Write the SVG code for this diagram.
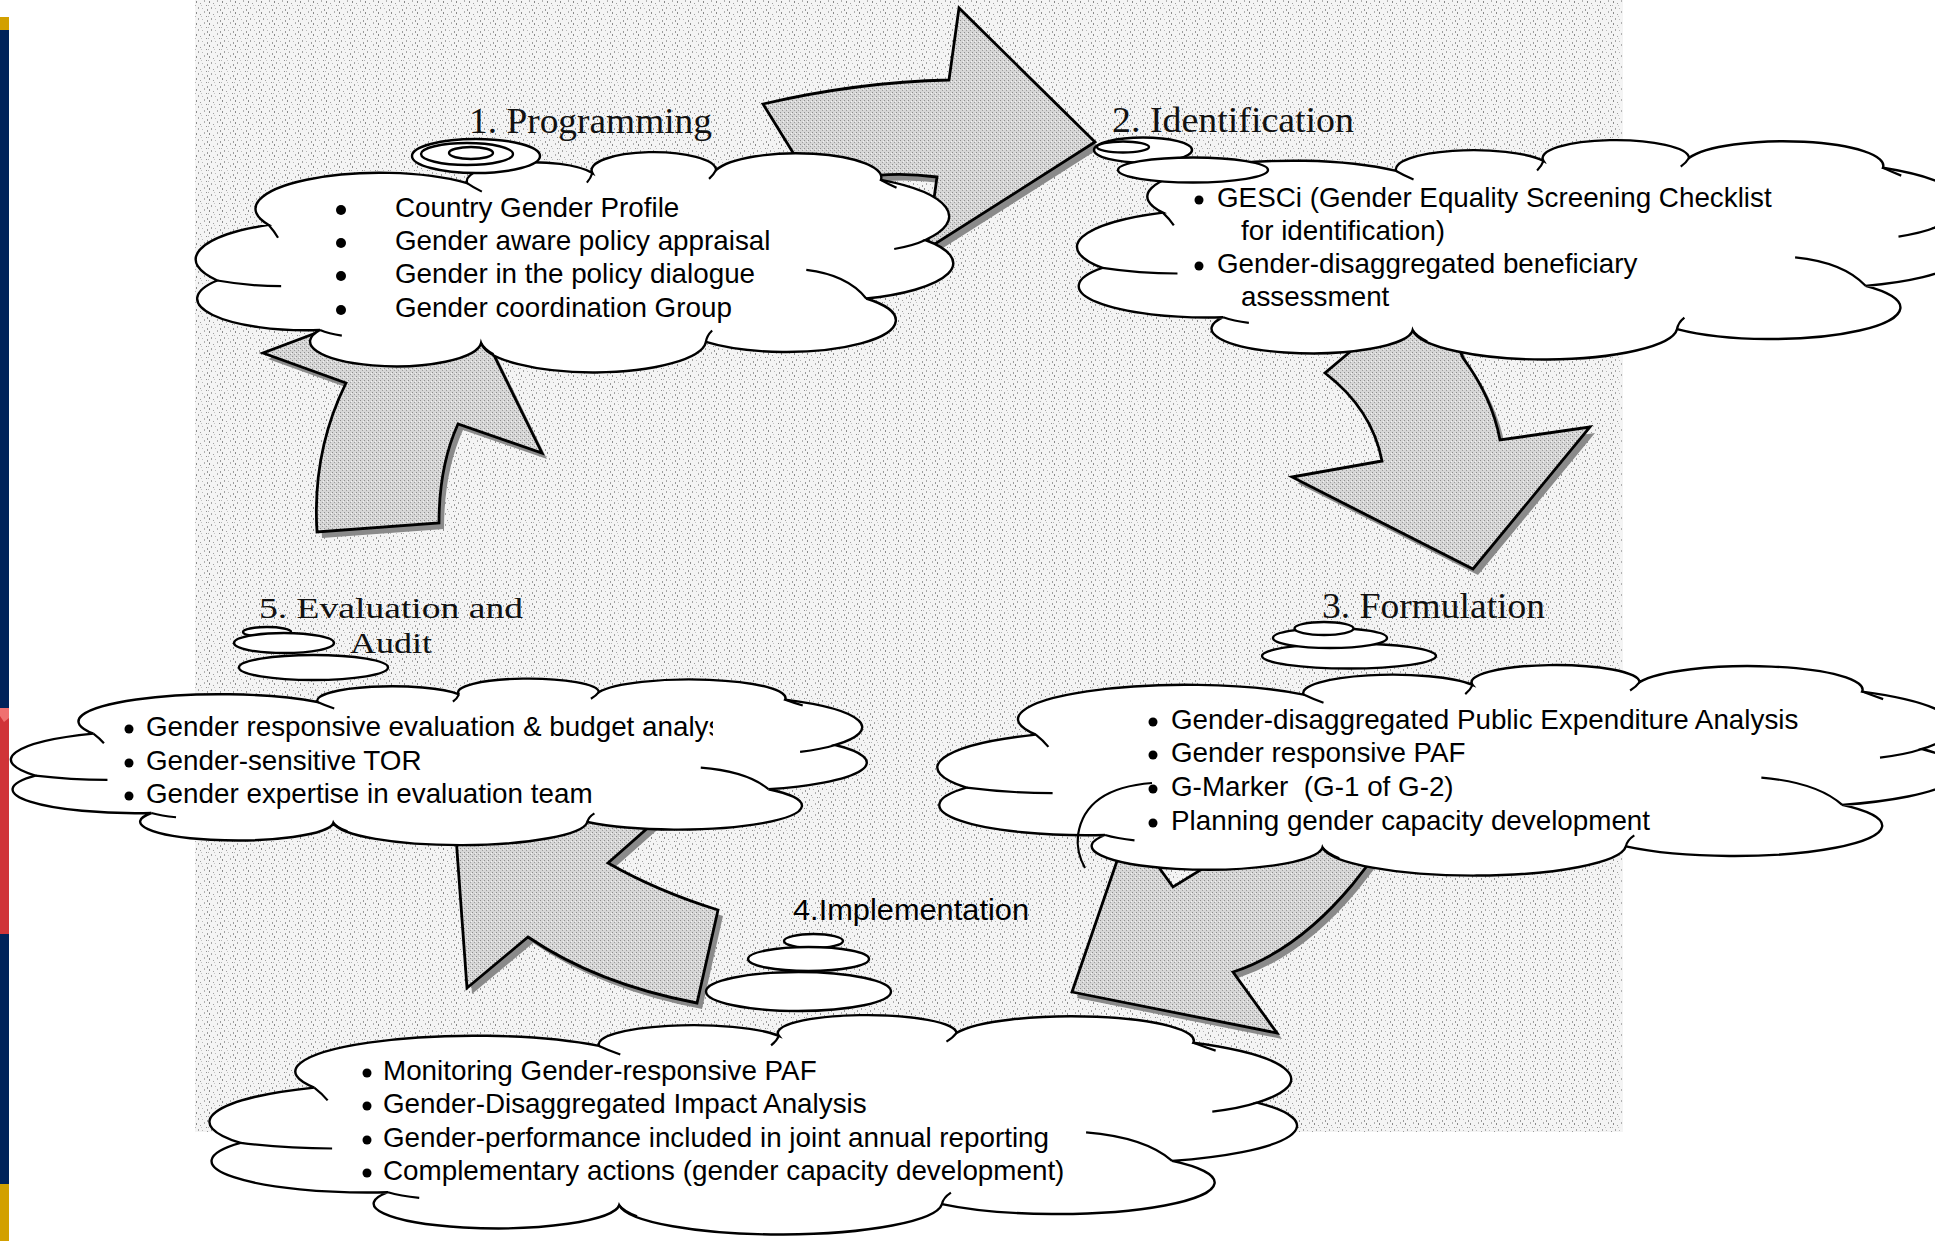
<svg xmlns="http://www.w3.org/2000/svg" xmlns:xlink="http://www.w3.org/1999/xlink" width="1935" height="1241" viewBox="0 0 1935 1241">
<style>
.cl{fill:#fff;stroke:#000;stroke-width:2.4}
.cr{fill:none;stroke:#000;stroke-width:2.2}
.bub{fill:#fff;stroke:#000;stroke-width:2.4}
.ar{fill:url(#agrey);stroke:#000;stroke-width:2.8;stroke-linejoin:miter}
.sh{fill:#8a8a8a}
.lbl{font-family:"Liberation Serif","Times New Roman",serif;font-size:35px;fill:#111}
.lbl5{font-family:"Liberation Serif","Times New Roman",serif;font-size:30px;fill:#111}
.txt{font-family:"Liberation Sans",Arial,sans-serif;font-size:27.8px;fill:#000}
.dot{fill:#000}
</style>
<defs>
<pattern id="speck" width="13" height="11" patternUnits="userSpaceOnUse">
<rect width="13" height="11" fill="#f4f4f4"/>
<rect x="1" y="1" width="1" height="2" fill="#8a8a8a"/>
<rect x="5" y="3" width="1" height="1" fill="#9e9e9e"/>
<rect x="9" y="0" width="1" height="2" fill="#b0b0b0"/>
<rect x="11" y="5" width="1" height="1" fill="#8e8e8e"/>
<rect x="3" y="7" width="1" height="2" fill="#a4a4a4"/>
<rect x="7" y="8" width="1" height="1" fill="#b8b8b8"/>
<rect x="12" y="9" width="1" height="2" fill="#9a9a9a"/>
<rect x="6" y="5" width="1" height="1" fill="#c4c4c4"/>
<rect x="0" y="5" width="1" height="1" fill="#b4b4b4"/>
</pattern>
<pattern id="agrey" width="4" height="4" patternUnits="userSpaceOnUse">
<rect width="4" height="4" fill="#d6d6d6"/>
<rect x="0" y="0" width="1" height="1" fill="#8c8c8c"/>
<rect x="2" y="2" width="1" height="1" fill="#9c9c9c"/>
<rect x="3" y="1" width="1" height="1" fill="#f2f2f2"/>
</pattern>
<g id="cloud">
<path class="cl" vector-effect="non-scaling-stroke" d="M3,58 A17.2,17.2 0 0 1 9.6,33.3 A16,16 0 0 1 35.1,14.7 A8.5,8.5 0 0 1 51.2,10.2 A8,8 0 1 1 67.1,8.9 A10.9,10.9 0 0 1 88.3,13.3 A19.4,19.4 0 0 1 94,40 A16.6,16.6 0 0 1 86.4,66 A14,14 0 0 1 65.8,85.3 A14.5,14.5 0 0 1 36.9,85.8 A11,11 0 1 1 16.2,80 A14,14 0 0 1 3,58 Z"/>
<path class="cr" vector-effect="non-scaling-stroke" d="M3,58 Q7,60.5 11.2,60.5 M9.6,33.3 Q10.3,36 10.8,39 M35.1,14.7 Q35.9,16.6 37,18.5 M51.2,10.2 Q51,12.5 50.5,14.5 M67.1,8.9 Q66.8,11 66.2,12.8 M88.3,13.3 Q89.2,15 90.3,16.8 M94,40 Q92.5,42.5 90,44 M78.7,53.3 Q84,55.5 86.4,66 M65.8,85.3 Q65.9,82.5 66.6,80.2 M36.9,85.8 Q37.3,88.5 38.5,90.8 M16.2,80 Q17.3,81.6 19,82.5"/>
</g>
<clipPath id="clip5"><rect x="0" y="700" width="713" height="50"/></clipPath>
</defs>

<rect x="0" y="0" width="1935" height="1241" fill="#fff"/>
<rect x="195" y="0" width="1428" height="1132" fill="url(#speck)"/>

<g id="connectors">
<g id="arrow-1-2">
<path class="sh" transform="translate(5,6)" d="M763,104 Q858,82 949,80 L959,8 L1095,142 L927,249 L937,177 Q870,168 816,190 Z"/>
<path class="ar" d="M763,104 Q858,82 949,80 L959,8 L1095,142 L927,249 L937,177 Q870,168 816,190 Z"/>
</g>
<g id="arrow-2-3">
<path class="sh" transform="translate(5,6)" d="M1325,373 Q1372,409 1382,461 L1292,477 L1473,569 L1590,427 L1500,440 Q1492,397 1463,358 L1448,322 L1370,335 Z"/>
<path class="ar" d="M1325,373 Q1372,409 1382,461 L1292,477 L1473,569 L1590,427 L1500,440 Q1492,397 1463,358 L1448,322 L1370,335 Z"/>
</g>
<g id="arrow-3-4">
<path class="sh" transform="translate(5,6)" d="M1072,992 L1277,1033 L1233,972 Q1297,951 1352,885 L1395,830 L1245,825 L1212,863 L1173,887 L1129,826 Z"/>
<path class="ar" d="M1072,992 L1277,1033 L1233,972 Q1297,951 1352,885 L1395,830 L1245,825 L1212,863 L1173,887 L1129,826 Z"/>
</g>
<g id="arrow-4-5">
<path class="sh" transform="translate(5,6)" d="M451,768 L467,988 L528,937 Q597,984 697,1003 L718,910 Q657,891 608,863 L668,810 Z"/>
<path class="ar" d="M451,768 L467,988 L528,937 Q597,984 697,1003 L718,910 Q657,891 608,863 L668,810 Z"/>
</g>
<g id="arrow-5-1">
<path class="sh" transform="translate(5,6)" d="M457,280 L263,353 L346,383 Q312,452 317,532 L439,523 Q439,466 458,424 L542,453 Z"/>
<path class="ar" d="M457,280 L263,353 L346,383 Q312,452 317,532 L439,523 Q439,466 458,424 L542,453 Z"/>
</g>
</g>

<g id="node-1-programming">
<use xlink:href="#cloud" href="#cloud" transform="translate(194,150) scale(7.78,2.25)"/>
<ellipse class="bub" cx="476" cy="156" rx="64" ry="17"/>
<ellipse class="bub" cx="467" cy="154" rx="46" ry="11"/>
<ellipse class="bub" cx="471" cy="153" rx="22" ry="6"/>
<text class="lbl" x="469" y="133" textLength="243" lengthAdjust="spacingAndGlyphs">1. Programming</text>
<circle class="dot" cx="341" cy="210" r="5"/>
<circle class="dot" cx="341" cy="243" r="5"/>
<circle class="dot" cx="341" cy="276" r="5"/>
<circle class="dot" cx="341" cy="310" r="5"/>
<text class="txt" x="395" y="217">Country Gender Profile</text>
<text class="txt" x="395" y="250">Gender aware policy appraisal</text>
<text class="txt" x="395" y="283">Gender in the policy dialogue</text>
<text class="txt" x="395" y="317">Gender coordination Group</text>
</g>

<g id="node-2-identification">
<use xlink:href="#cloud" href="#cloud" transform="translate(1075,138) scale(9.15,2.24)"/>
<ellipse class="bub" cx="1143" cy="150" rx="49" ry="12.5"/>
<ellipse class="bub" cx="1123" cy="147" rx="26" ry="5.5"/>
<ellipse class="bub" cx="1193" cy="170" rx="75" ry="12.5"/>
<text class="lbl" x="1112" y="132" textLength="242" lengthAdjust="spacingAndGlyphs">2. Identification</text>
<circle class="dot" cx="1199" cy="200" r="4.5"/>
<circle class="dot" cx="1199" cy="266" r="4.5"/>
<text class="txt" x="1217" y="207">GESCi (Gender Equality Screening Checklist</text>
<text class="txt" x="1241" y="240">for identification)</text>
<text class="txt" x="1217" y="273">Gender-disaggregated beneficiary</text>
<text class="txt" x="1241" y="306">assessment</text>
</g>

<g id="node-3-formulation">
<use xlink:href="#cloud" href="#cloud" transform="translate(935,663) scale(10.5,2.15)"/>
<path class="cr" d="M1152,783 Q1085,788 1078,835 Q1076,852 1085,868"/>
<ellipse class="bub" cx="1349" cy="656" rx="87" ry="12.5"/>
<ellipse class="bub" cx="1330" cy="638" rx="57" ry="10"/>
<ellipse class="bub" cx="1324" cy="628.5" rx="29.5" ry="6.5"/>
<text class="lbl" x="1322" y="618" textLength="223" lengthAdjust="spacingAndGlyphs">3. Formulation</text>
<circle class="dot" cx="1153" cy="722" r="4.5"/>
<circle class="dot" cx="1153" cy="755" r="4.5"/>
<circle class="dot" cx="1153" cy="789" r="4.5"/>
<circle class="dot" cx="1153" cy="823" r="4.5"/>
<text class="txt" x="1171" y="729">Gender-disaggregated Public Expenditure Analysis</text>
<text class="txt" x="1171" y="762">Gender responsive PAF</text>
<text class="txt" x="1171" y="796" style="white-space:pre">G-Marker  (G-1 of G-2)</text>
<text class="txt" x="1171" y="830">Planning gender capacity development</text>
</g>

<g id="node-4-implementation">
<use xlink:href="#cloud" href="#cloud" transform="translate(207,1013) scale(11.17,2.24)"/>
<ellipse class="bub" cx="813.5" cy="941" rx="29.5" ry="7"/>
<ellipse class="bub" cx="808.5" cy="959" rx="60.5" ry="12"/>
<ellipse class="bub" cx="798.5" cy="991.5" rx="92.5" ry="19.5"/>
<text class="txt" x="793" y="920" style="font-size:30px" textLength="236" lengthAdjust="spacingAndGlyphs">4.Implementation</text>
<circle class="dot" cx="367" cy="1073" r="4.5"/>
<circle class="dot" cx="367" cy="1106" r="4.5"/>
<circle class="dot" cx="367" cy="1140" r="4.5"/>
<circle class="dot" cx="367" cy="1173" r="4.5"/>
<text class="txt" x="383" y="1080">Monitoring Gender-responsive PAF</text>
<text class="txt" x="383" y="1113">Gender-Disaggregated Impact Analysis</text>
<text class="txt" x="383" y="1147">Gender-performance included in joint annual reporting</text>
<text class="txt" x="383" y="1180">Complementary actions (gender capacity development)</text>
</g>

<g id="node-5-evaluation">
<use xlink:href="#cloud" href="#cloud" transform="translate(9,677) scale(8.79,1.70)"/>
<ellipse class="bub" cx="267" cy="632" rx="24" ry="5"/>
<ellipse class="bub" cx="284" cy="643" rx="50" ry="10"/>
<ellipse class="bub" cx="313.5" cy="667.5" rx="74.5" ry="12.5"/>
<text class="lbl5" x="259" y="618" textLength="264" lengthAdjust="spacingAndGlyphs">5. Evaluation and</text>
<text class="lbl5" x="350" y="653" textLength="82" lengthAdjust="spacingAndGlyphs">Audit</text>
<circle class="dot" cx="129" cy="729" r="4.5"/>
<circle class="dot" cx="129" cy="763" r="4.5"/>
<circle class="dot" cx="129" cy="796" r="4.5"/>
<text class="txt" x="146" y="736" clip-path="url(#clip5)">Gender responsive evaluation &amp; budget analys</text>
<text class="txt" x="146" y="770">Gender-sensitive TOR</text>
<text class="txt" x="146" y="803">Gender expertise in evaluation team</text>
</g>

<g id="side-bar">
<rect x="0" y="17" width="9" height="13" fill="#d2a000"/>
<rect x="0" y="30" width="9" height="678" fill="#00225a"/>
<rect x="0" y="708" width="9" height="226" fill="#d03438"/>
<polygon points="0,708 9,708 9,718 4,722 0,716" fill="#f07070"/>
<rect x="0" y="934" width="9" height="250" fill="#00225a"/>
<rect x="0" y="1184" width="9" height="57" fill="#d2a000"/>
</g>
</svg>
